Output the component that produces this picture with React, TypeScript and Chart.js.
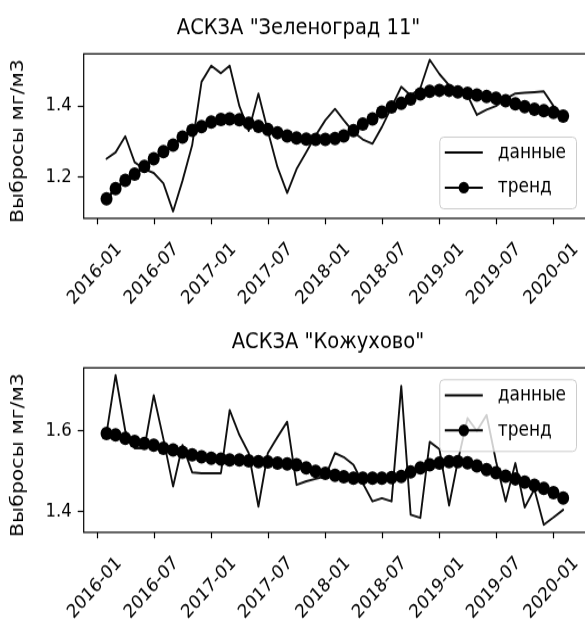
import React, { useEffect, useRef } from "react";
import { Chart, registerables } from "chart.js";

Chart.register(...registerables);

const FONT = "DejaVu Sans";

const months = [
  "2016-01", "2016-02", "2016-03", "2016-04", "2016-05", "2016-06", "2016-07", "2016-08", "2016-09", "2016-10", "2016-11", "2016-12",
  "2017-01", "2017-02", "2017-03", "2017-04", "2017-05", "2017-06", "2017-07", "2017-08", "2017-09", "2017-10", "2017-11", "2017-12",
  "2018-01", "2018-02", "2018-03", "2018-04", "2018-05", "2018-06", "2018-07", "2018-08", "2018-09", "2018-10", "2018-11", "2018-12",
  "2019-01", "2019-02", "2019-03", "2019-04", "2019-05", "2019-06", "2019-07", "2019-08", "2019-09", "2019-10", "2019-11", "2019-12",
  "2020-01",
];

const xTickLabels = ["2016-01", "2016-07", "2017-01", "2017-07", "2018-01", "2018-07", "2019-01", "2019-07", "2020-01"];

const zelenogradData = [
  1.252, 1.270, 1.315, 1.242, 1.223, 1.212, 1.183, 1.104, 1.19, 1.29, 1.468, 1.513,
  1.492, 1.513, 1.40, 1.33, 1.435, 1.33, 1.228, 1.156, 1.223, 1.27, 1.317, 1.36,
  1.392, 1.36, 1.327, 1.306, 1.294, 1.341, 1.397, 1.454, 1.43, 1.45, 1.53, 1.49,
  1.458, 1.444, 1.43, 1.375, 1.39, 1.40, 1.42, 1.435, 1.437, 1.439, 1.441, 1.40, 1.375,
];

const zelenogradTrend = [
  1.139, 1.168, 1.191, 1.209, 1.230, 1.252, 1.272, 1.290, 1.313, 1.332, 1.342, 1.355,
  1.362, 1.364, 1.361, 1.352, 1.343, 1.334, 1.325, 1.316, 1.310, 1.307, 1.306, 1.306,
  1.309, 1.316, 1.331, 1.349, 1.364, 1.383, 1.397, 1.408, 1.420, 1.434, 1.441, 1.444,
  1.444, 1.440, 1.436, 1.431, 1.427, 1.422, 1.415, 1.406, 1.398, 1.391, 1.387, 1.382, 1.372,
];

const kozhukhovoData = [
  1.594, 1.739, 1.60, 1.557, 1.557, 1.689, 1.58, 1.462, 1.565, 1.497, 1.495, 1.495,
  1.495, 1.652, 1.59, 1.545, 1.412, 1.545, 1.585, 1.623, 1.466, 1.475, 1.481, 1.487,
  1.545, 1.535, 1.516, 1.47, 1.425, 1.433, 1.425, 1.712, 1.392, 1.384, 1.573, 1.555,
  1.415, 1.525, 1.632, 1.60, 1.64, 1.525, 1.425, 1.52, 1.41, 1.455, 1.367, 1.385, 1.404,
];

const kozhukhovoTrend = [
  1.594, 1.590, 1.582, 1.574, 1.569, 1.565, 1.557, 1.553, 1.547, 1.541, 1.536, 1.532,
  1.530, 1.528, 1.528, 1.526, 1.524, 1.523, 1.520, 1.518, 1.516, 1.508, 1.500, 1.495,
  1.490, 1.486, 1.483, 1.483, 1.483, 1.483, 1.484, 1.487, 1.498, 1.508, 1.516, 1.520,
  1.524, 1.524, 1.521, 1.513, 1.504, 1.496, 1.488, 1.481, 1.473, 1.465, 1.457, 1.447, 1.433,
];

const zelenogradYTicks = [1.2, 1.4];
const kozhukhovoYTicks = [1.4, 1.6];

const Y_LABEL = "Выбросы мг/м3";
const SERIES_LABELS = ["данные", "тренд"];

// canvas is drawn at a logical size and stretched vertically, like the reference image
const CANVAS_W = 600;
const CANVAS_H = 276;
const CSS_H = 314;

const DAY = 86400000;
const ORIGIN = Date.UTC(2016, 0, 1);
function monthEndDay(m: string) {
  const [y, mo] = m.split("-").map(Number);
  return (Date.UTC(y, mo, 0) - ORIGIN) / DAY;
}
function monthStartDay(m: string) {
  const [y, mo] = m.split("-").map(Number);
  return (Date.UTC(y, mo - 1, 1) - ORIGIN) / DAY;
}

const framePlugin = {
  id: "mplFrame",
  afterDatasetsDraw(chart: any) {
    const { ctx, chartArea: ca } = chart;
    ctx.save();
    ctx.strokeStyle = "#000";
    ctx.lineWidth = 1.2;
    ctx.strokeRect(ca.left, ca.top, ca.right - ca.left, ca.bottom - ca.top);
    ctx.restore();
  },
};

const titlePlugin = {
  id: "mplTitle",
  afterDraw(chart: any, _args: any, opts: any) {
    const { ctx, chartArea: ca } = chart;
    ctx.save();
    ctx.fillStyle = "#000";
    ctx.font = `19.5px "${FONT}"`;
    ctx.textAlign = "center";
    ctx.textBaseline = "alphabetic";
    ctx.fillText(opts.text, (ca.left + ca.right) / 2 + opts.shift, ca.top - 17.6);
    // y-axis label
    ctx.font = `18px "${FONT}"`;
    ctx.translate(18.5, (ca.top + ca.bottom) / 2 + 4.4);
    ctx.rotate(-Math.PI / 2);
    ctx.textBaseline = "middle";
    ctx.fillText(Y_LABEL, 0, 0);
    ctx.restore();
  },
};

const legendPlugin = {
  id: "mplLegend",
  afterDraw(chart: any, _args: any, opts: any) {
    const { ctx, chartArea: ca } = chart;
    const w = 136.7;
    const h = 63;
    const left = ca.right - 9.5 - w;
    const top = opts.corner === "upper" ? ca.top + 10.5 : ca.bottom - 8.4 - h;
    const r = 4;
    ctx.save();
    ctx.beginPath();
    ctx.moveTo(left + r, top);
    ctx.lineTo(left + w - r, top);
    ctx.quadraticCurveTo(left + w, top, left + w, top + r);
    ctx.lineTo(left + w, top + h - r);
    ctx.quadraticCurveTo(left + w, top + h, left + w - r, top + h);
    ctx.lineTo(left + r, top + h);
    ctx.quadraticCurveTo(left, top + h, left, top + h - r);
    ctx.lineTo(left, top + r);
    ctx.quadraticCurveTo(left, top, left + r, top);
    ctx.closePath();
    ctx.fillStyle = "rgba(255,255,255,0.8)";
    ctx.fill();
    ctx.strokeStyle = "#cccccc";
    ctx.lineWidth = 1;
    ctx.stroke();

    const rows = [top + 13.6, top + 44.4];
    ctx.strokeStyle = "#000";
    ctx.lineWidth = 2;
    rows.forEach((y, i) => {
      ctx.beginPath();
      ctx.moveTo(left + 5, y);
      ctx.lineTo(left + 43, y);
      ctx.stroke();
      if (i === 1) {
        ctx.beginPath();
        ctx.arc(left + 24, y, 5.2, 0, Math.PI * 2);
        ctx.fillStyle = "#000";
        ctx.fill();
      }
      ctx.fillStyle = "#000";
      ctx.font = `17px "${FONT}"`;
      ctx.textAlign = "left";
      ctx.textBaseline = "middle";
      ctx.fillText(SERIES_LABELS[i], left + 58, y);
    });
    ctx.restore();
  },
};

function makeConfig(
  title: string,
  titleShift: number,
  values: number[],
  trend: number[],
  yMin: number,
  yMax: number,
  yTicks: number[],
  corner: string
): any {
  const xs = months.map(monthEndDay);
  const first = xs[0];
  const last = xs[xs.length - 1];
  const span = last - first;
  const tickMap = new Map<number, string>();
  xTickLabels.forEach((t) => tickMap.set(monthStartDay(t), t));
  const tickFont = { family: FONT, size: 16.5 };
  return {
    type: "line",
    data: {
      datasets: [
        {
          label: SERIES_LABELS[1],
          data: xs.map((x, i) => ({ x, y: trend[i] })),
          borderColor: "#000",
          backgroundColor: "#000",
          borderWidth: 2.5,
          pointRadius: 6,
          pointBorderWidth: 0,
          pointBackgroundColor: "#000",
          tension: 0,
          order: 0,
        },
        {
          label: SERIES_LABELS[0],
          data: xs.map((x, i) => ({ x, y: values[i] })),
          borderColor: "#111",
          borderWidth: 1.9,
          pointRadius: 0,
          borderJoinStyle: "round",
          borderCapStyle: "round",
          tension: 0,
          order: 1,
        },
      ],
    },
    options: {
      responsive: false,
      animation: false,
      devicePixelRatio: 1,
      layout: { padding: { top: 47.3, right: 14, left: 0, bottom: 0 } },
      plugins: {
        legend: { display: false },
        tooltip: { enabled: false },
        mplTitle: { text: title, shift: titleShift },
        mplLegend: { corner },
      },
      scales: {
        x: {
          type: "linear",
          min: first - 0.05 * span,
          max: last + 0.05 * span,
          afterBuildTicks: (s: any) => {
            s.ticks = xTickLabels.map((t) => ({ value: monthStartDay(t) }));
          },
          afterFit: (s: any) => {
            s.height = 84.1;
          },
          ticks: {
            autoSkip: false,
            minRotation: 45,
            maxRotation: 45,
            labelOffset: 22,
            padding: 12.3,
            color: "#000",
            font: tickFont,
            callback: (v: number) => tickMap.get(v) ?? "",
          },
          grid: {
            display: true,
            drawOnChartArea: false,
            drawTicks: true,
            tickLength: 5.3,
            tickColor: "#000",
            tickWidth: 1.2,
          },
          border: { display: false },
        },
        y: {
          min: yMin,
          max: yMax,
          afterBuildTicks: (s: any) => {
            s.ticks = yTicks.map((v) => ({ value: v }));
          },
          afterFit: (s: any) => {
            s.width = 83.7;
          },
          ticks: {
            padding: 6,
            color: "#000",
            font: tickFont,
            callback: (v: number) => v.toFixed(1),
          },
          grid: {
            display: true,
            drawOnChartArea: false,
            drawTicks: true,
            tickLength: 6,
            tickColor: "#000",
            tickWidth: 1.2,
          },
          border: { display: false },
        },
      },
    },
    plugins: [framePlugin, titlePlugin, legendPlugin],
  };
}

function ChartCanvas({ build, top }: { build: () => any; top: number }) {
  const ref = useRef<HTMLCanvasElement>(null);
  useEffect(() => {
    const chart = new Chart(ref.current as HTMLCanvasElement, build());
    return () => chart.destroy();
  }, []);
  return (
    <canvas
      ref={ref}
      width={CANVAS_W}
      height={CANVAS_H}
      style={{ position: "absolute", left: 0, top, width: CANVAS_W, height: CSS_H }}
    />
  );
}

export default function App() {
  return (
    <div
      style={{
        position: "fixed",
        left: 0,
        top: 0,
        width: 585,
        height: 628,
        overflow: "hidden",
        background: "#fff",
      }}
    >
      <ChartCanvas
        top={0}
        build={() =>
          makeConfig('АСКЗА "Зеленоград 11"', -36.3, zelenogradData, zelenogradTrend, 1.0845, 1.5465, zelenogradYTicks, "lower")
        }
      />
      <ChartCanvas
        top={314}
        build={() =>
          makeConfig('АСКЗА "Кожухово"', -6.9, kozhukhovoData, kozhukhovoTrend, 1.348, 1.757, kozhukhovoYTicks, "upper")
        }
      />
    </div>
  );
}
